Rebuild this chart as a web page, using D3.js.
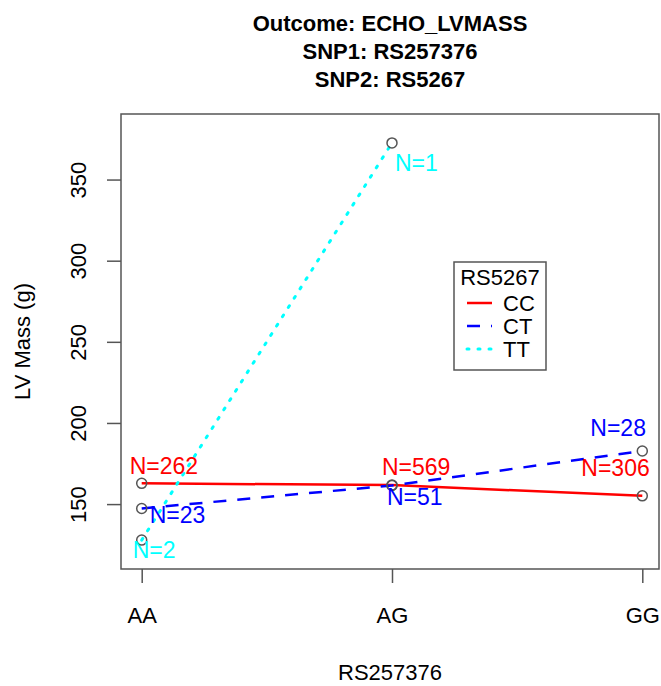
<!DOCTYPE html>
<html lang="en">
<head>
<meta charset="UTF-8">
<title>ECHO_LVMASS interaction plot</title>
<script src="https://d3js.org/d3.v7.min.js"></script>
<style>
  body { margin: 0; background: #fff; }
  text { font-family: "Liberation Sans", Arial, Helvetica, sans-serif; }
</style>
</head>
<body>
<div id="chart"></div>
<script>
// data
var snp1 = ["AA", "AG", "GG"];
var groups = ["CC", "CT", "TT"];
var ccValues = [162.8, 161.7, 155.1];
var ctValues = [147.3, 161.5, 182.7];
var ttValues = [127.8, 372.6];
var ccN = [262, 569, 306];
var ctN = [23, 51, 28];
var ttN = [2, 1];
var yTicks = [150, 200, 250, 300, 350];

// label nudges (px) so the N= texts sit like the original
var labelNudge = {
  CC: [[-12, -17], [-10, -18], [-61, -28]],
  CT: [[8, 7], [-5, 12], [-52, -23]],
  TT: [[-9, 10], [3, 20]]
};

var colors = { CC: "#ff0000", CT: "#0000ff", TT: "#00ffff" };
var dashes = { CC: null, CT: "13,11", TT: "2,9" };

var series = [
  { name: "CC", values: ccValues, n: ccN },
  { name: "CT", values: ctValues, n: ctN },
  { name: "TT", values: ttValues, n: ttN }
];

var W = 661, H = 686;
var box = { left: 121, right: 659, top: 114, bottom: 569 };

var svg = d3.select("#chart").append("svg")
  .attr("width", W)
  .attr("height", H);

var x = d3.scalePoint()
  .domain(snp1)
  .range([141.7, 642.3]);

var y = d3.scaleLinear()
  .domain([110, 390.4])
  .range([box.bottom, box.top]);

// title
var titleLines = ["Outcome: ECHO_LVMASS", "SNP1: RS257376", "SNP2: RS5267"];
svg.selectAll(".title")
  .data(titleLines)
  .enter()
  .append("text")
  .attr("x", 390)
  .attr("y", function (d, i) { return 31 + i * 28 })
  .attr("text-anchor", "middle")
  .style("font-size", "22px")
  .style("font-weight", "bold")
  .text(function (d) { return d });

// plot box
svg.append("rect")
  .attr("x", box.left)
  .attr("y", box.top)
  .attr("width", box.right - box.left)
  .attr("height", box.bottom - box.top)
  .attr("fill", "none")
  .attr("stroke", "#555")
  .attr("stroke-width", 1.5);

// y axis
var yAxis = svg.append("g")
  .attr("transform", "translate(" + box.left + ",0)")
  .call(d3.axisLeft(y).tickValues(yTicks).tickSize(14).tickFormat(d3.format("d")));
yAxis.select(".domain").remove();
yAxis.selectAll("line").attr("stroke", "#555").attr("stroke-width", 1.5);
yAxis.selectAll("text")
  .attr("x", null).attr("dy", null)
  .attr("transform", "translate(-43,0) rotate(-90)")
  .attr("y", 0)
  .attr("text-anchor", "middle")
  .attr("dominant-baseline", "central")
  .attr("fill", "#000")
  .style("font-size", "22px");

// x axis
var xAxis = svg.append("g")
  .attr("transform", "translate(0," + box.bottom + ")")
  .call(d3.axisBottom(x).tickSize(14));
xAxis.select(".domain").remove();
xAxis.selectAll("line").attr("stroke", "#555").attr("stroke-width", 1.5);
xAxis.selectAll("text")
  .attr("y", 46)
  .attr("dy", null)
  .attr("dominant-baseline", "central")
  .attr("fill", "#000")
  .style("font-size", "22px");

// axis titles
svg.append("text")
  .attr("x", 390)
  .attr("y", 672)
  .attr("text-anchor", "middle")
  .attr("dominant-baseline", "central")
  .style("font-size", "22px")
  .text("RS257376");

svg.append("text")
  .attr("transform", "translate(22," + ((box.top + box.bottom) / 2) + ") rotate(-90)")
  .attr("text-anchor", "middle")
  .attr("dominant-baseline", "central")
  .style("font-size", "22px")
  .text("LV Mass (g)");

// lines
var line = d3.line()
  .x(function (d, i) { return x(snp1[i]) })
  .y(function (d) { return y(d) });

svg.selectAll(".series")
  .data(series)
  .enter()
  .append("path")
  .attr("d", function (d) { return line(d.values) })
  .attr("fill", "none")
  .attr("stroke", function (d) { return colors[d.name] })
  .attr("stroke-width", function (d) { return d.name == "TT" ? 3 : 2.5 })
  .attr("stroke-linecap", function (d) { return d.name == "TT" ? "round" : "butt" })
  .attr("stroke-dasharray", function (d) { return dashes[d.name] });

// points
series.forEach(function (s) {
  svg.append("g")
    .selectAll("circle")
    .data(s.values)
    .enter()
    .append("circle")
    .attr("cx", function (d, i) { return x(snp1[i]) })
    .attr("cy", function (d) { return y(d) })
    .attr("r", 5)
    .attr("fill", "none")
    .attr("stroke", "#555")
    .attr("stroke-width", 1.5);
});

// N labels
series.forEach(function (s) {
  svg.append("g")
    .selectAll("text")
    .data(s.n)
    .enter()
    .append("text")
    .attr("x", function (d, i) { return x(snp1[i]) + labelNudge[s.name][i][0] })
    .attr("y", function (d, i) { return y(s.values[i]) + labelNudge[s.name][i][1] })
    .attr("dominant-baseline", "central")
    .attr("fill", colors[s.name])
    .style("font-size", "23px")
    .text(function (d) { return "N=" + d });
});

// legend
var lg = svg.append("g").attr("transform", "translate(454,262)");
lg.append("rect")
  .attr("width", 92)
  .attr("height", 108)
  .attr("fill", "#fff")
  .attr("stroke", "#555")
  .attr("stroke-width", 1.5);
lg.append("text")
  .attr("x", 46)
  .attr("y", 15)
  .attr("text-anchor", "middle")
  .attr("dominant-baseline", "central")
  .style("font-size", "22px")
  .text("RS5267");

var rows = lg.selectAll(".row")
  .data(groups)
  .enter()
  .append("g")
  .attr("transform", function (d, i) { return "translate(0," + (41 + i * 23) + ")" });
rows.append("line")
  .attr("x1", 13).attr("x2", 38)
  .attr("stroke", function (d) { return colors[d] })
  .attr("stroke-width", function (d) { return d == "TT" ? 3 : 2.5 })
  .attr("stroke-linecap", function (d) { return d == "TT" ? "round" : "butt" })
  .attr("stroke-dasharray", function (d) { return dashes[d] });
rows.append("text")
  .attr("x", 49)
  .attr("dominant-baseline", "central")
  .style("font-size", "22px")
  .text(function (d) { return d });
</script>
</body>
</html>
